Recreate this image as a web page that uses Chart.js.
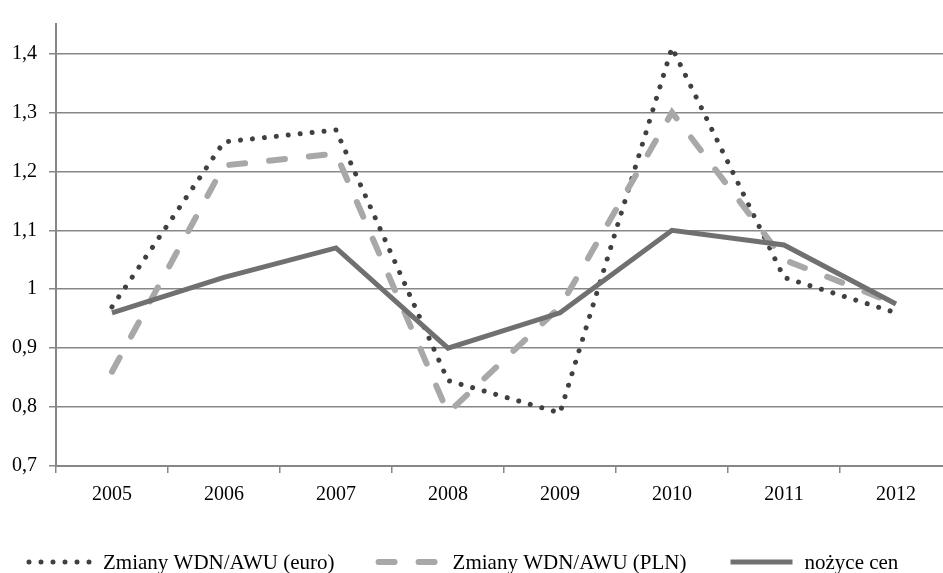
<!DOCTYPE html>
<html>
<head>
<meta charset="utf-8">
<script src="https://cdn.jsdelivr.net/npm/chart.js@4"></script>
<style>
  html, body { margin: 0; padding: 0; background: #fff; overflow: hidden; }
</style>
</head>
<body>
<canvas id="scissorsChart" width="952" height="573"></canvas>
<script>
// Data
const years = ['2005', '2006', '2007', '2008', '2009', '2010', '2011', '2012'];
const wdnEuro = [0.97, 1.25, 1.27, 0.845, 0.79, 1.41, 1.02, 0.96];
const wdnPln = [0.86, 1.21, 1.23, 0.79, 0.97, 1.30, 1.05, 0.975];
const scissors = [0.96, 1.02, 1.07, 0.90, 0.96, 1.10, 1.075, 0.975];
const yTicks = [0.7, 0.8, 0.9, 1.0, 1.1, 1.2, 1.3, 1.4];
const seriesNames = ['Zmiany WDN/AWU (euro)', 'Zmiany WDN/AWU (PLN)', 'nożyce cen'];

const FONT = '"Liberation Serif", "Times New Roman", serif';
const GRID = '#878787';

// Legend drawn at the bottom, line samples + labels
const bottomLegend = {
    id: 'bottomLegend',
    afterDraw(chart) {
        const ctx = chart.ctx;
        const y = 562;
        let x = 27;
        ctx.save();
        ctx.font = '21px ' + FONT;
        ctx.textBaseline = 'middle';
        chart.data.datasets.forEach(ds => {
            ctx.beginPath();
            ctx.setLineDash(ds.borderDash || []);
            ctx.lineCap = ds.borderCapStyle || 'butt';
            ctx.lineWidth = ds.borderWidth;
            ctx.strokeStyle = ds.borderColor;
            ctx.moveTo(x + 2, y);
            ctx.lineTo(x + 64, y);
            ctx.stroke();
            ctx.setLineDash([]);
            ctx.fillStyle = '#000';
            ctx.fillText(ds.label, x + 76, y + 1);
            x += 76 + ctx.measureText(ds.label).width + 42;
        });
        ctx.restore();
    }
};

new Chart(document.getElementById('scissorsChart'), {
    type: 'line',
    data: {
        labels: years,
        datasets: [
            {
                label: seriesNames[0],
                data: wdnEuro,
                borderColor: '#404040',
                borderWidth: 5,
                borderDash: [0.001, 12],
                borderCapStyle: 'round',
                order: 2
            },
            {
                label: seriesNames[1],
                data: wdnPln,
                borderColor: '#a8a8a8',
                borderWidth: 6,
                borderDash: [16, 24],
                borderCapStyle: 'round',
                order: 1
            },
            {
                label: seriesNames[2],
                data: scissors,
                borderColor: '#707070',
                borderWidth: 5,
                order: 0
            }
        ]
    },
    options: {
        responsive: false,
        animation: false,
        tension: 0,
        elements: { point: { radius: 0 } },
        layout: { padding: { top: 12, right: 0, bottom: 67, left: 0 } },
        plugins: { legend: { display: false }, tooltip: { enabled: false } },
        scales: {
            x: {
                offset: true,
                grid: {
                    offset: true,
                    drawOnChartArea: false,
                    drawTicks: true,
                    tickLength: 7,
                    color: GRID,
                    lineWidth: 1.5
                },
                border: { color: GRID, width: 2 },
                ticks: { color: '#000', font: { family: FONT, size: 20 }, padding: 10, maxRotation: 0 },
                afterFit: scale => { scale.height = 40; }
            },
            y: {
                min: 0.7,
                max: 1.45,
                afterBuildTicks: scale => { scale.ticks = yTicks.map(v => ({ value: v })); },
                grid: { color: GRID, lineWidth: 1.5, tickLength: 7 },
                border: { color: GRID, width: 2 },
                ticks: {
                    color: '#000',
                    font: { family: FONT, size: 20 },
                    padding: 12,
                    callback: v => (Math.round(v * 10) / 10).toString().replace('.', ',')
                },
                afterFit: scale => { scale.width = 56; }
            }
        }
    },
    plugins: [bottomLegend]
});
</script>
</body>
</html>
